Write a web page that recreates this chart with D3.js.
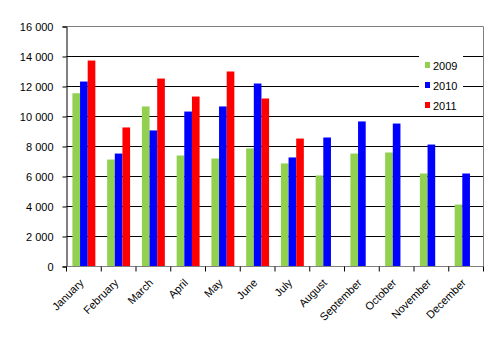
<!DOCTYPE html>
<html>
<head>
<meta charset="utf-8">
<script src="https://cdn.jsdelivr.net/npm/d3@7"></script>
<style>
  body { margin: 0; background: #fff; }
  text { font-family: Arial, "Liberation Sans", sans-serif; font-size: 11px; fill: #000; }
</style>
</head>
<body>
<div id="chart"></div>
<script>
const width = 498;
const height = 340;

// Data
const months = ["January", "February", "March", "April", "May", "June",
  "July", "August", "September", "October", "November", "December"];
const series = ["2009", "2010", "2011"];
const colors = ["#92d050", "#0000ff", "#ff0000"];
const values2009 = [11550, 7130, 10670, 7400, 7200, 7870, 6870, 6070, 7530, 7600, 6200, 4130];
const values2010 = [12330, 7530, 9070, 10330, 10670, 12200, 7270, 8600, 9670, 9530, 8130, 6200];
const values2011 = [13730, 9270, 12530, 11330, 13000, 11200, 8530, null, null, null, null, null];
const yTicks = [0, 2000, 4000, 6000, 8000, 10000, 12000, 14000, 16000];

const margin = { left: 66.5, right: 14.5, top: 26.5, bottom: 73.5 };
const plotW = width - margin.left - margin.right;
const plotH = height - margin.top - margin.bottom;

const svg = d3.select("#chart").append("svg")
  .attr("width", width)
  .attr("height", height);

const g = svg.append("g")
  .attr("transform", `translate(${margin.left},${margin.top})`);

const x0 = d3.scaleBand().domain(months).range([0, plotW]);
const bw = x0.bandwidth();
const x1 = d3.scaleBand().domain(series)
  .range([bw * 0.17, bw * 0.83]);
const y = d3.scaleLinear().domain([0, 16000]).range([plotH, 0]);

// gridlines
g.selectAll("line.grid")
  .data(yTicks.filter(d => d > 0 && d < 16000))
  .enter().append("line")
  .attr("x1", 0).attr("x2", plotW)
  .attr("y1", d => Math.round(y(d)))
  .attr("y2", d => Math.round(y(d)))
  .attr("stroke", "#000")
  .attr("stroke-width", 1);

// plot border (top and right)
g.append("path")
  .attr("d", `M0,0H${plotW}V${plotH}`)
  .attr("fill", "none")
  .attr("stroke", "#808080");

// bars
const allValues = [values2009, values2010, values2011];
months.forEach((m, i) => {
  series.forEach((s, j) => {
    const v = allValues[j][i];
    if (v == null) return;
    g.append("rect")
      .attr("x", x0(m) + x1(s))
      .attr("y", y(v))
      .attr("width", x1.bandwidth())
      .attr("height", plotH - y(v))
      .attr("fill", colors[j]);
  });
});

// y axis
const yAxis = g.append("g")
  .call(d3.axisLeft(y).tickValues(yTicks).tickSize(4)
    .tickFormat(d => d3.format(",")(d).replace(",", " ")));
yAxis.select(".domain").attr("stroke", "#000");
yAxis.selectAll(".tick line").attr("stroke", "#000");
yAxis.selectAll("text")
  .attr("x", -13)
  .style("font-family", "Arial, 'Liberation Sans', sans-serif")
  .style("font-size", "11px");

// x axis
const xAxis = g.append("g")
  .attr("transform", `translate(0,${plotH})`);
xAxis.append("line")
  .attr("x1", 0).attr("x2", plotW)
  .attr("stroke", "#808080");
xAxis.selectAll("line.tick")
  .data(d3.range(months.length + 1))
  .enter().append("line")
  .attr("x1", i => i * bw).attr("x2", i => i * bw)
  .attr("y1", 0).attr("y2", 5)
  .attr("stroke", "#000");
xAxis.selectAll("text")
  .data(months)
  .enter().append("text")
  .attr("text-anchor", "end")
  .attr("transform", d => `translate(${x0(d) + bw / 2 + 0.5},${17}) rotate(-45)`)
  .text(d => d);

// legend
const legend = svg.append("g").attr("transform", "translate(419,52)");
legend.append("rect")
  .attr("width", 44).attr("height", 62)
  .attr("fill", "#fff");
series.forEach((s, j) => {
  const row = legend.append("g").attr("transform", `translate(0,${14 + j * 20})`);
  row.append("rect")
    .attr("x", 6).attr("y", -4)
    .attr("width", 5).attr("height", 6)
    .attr("fill", colors[j]);
  row.append("text")
    .attr("x", 14).attr("y", 4)
    .text(s);
});
</script>
</body>
</html>
